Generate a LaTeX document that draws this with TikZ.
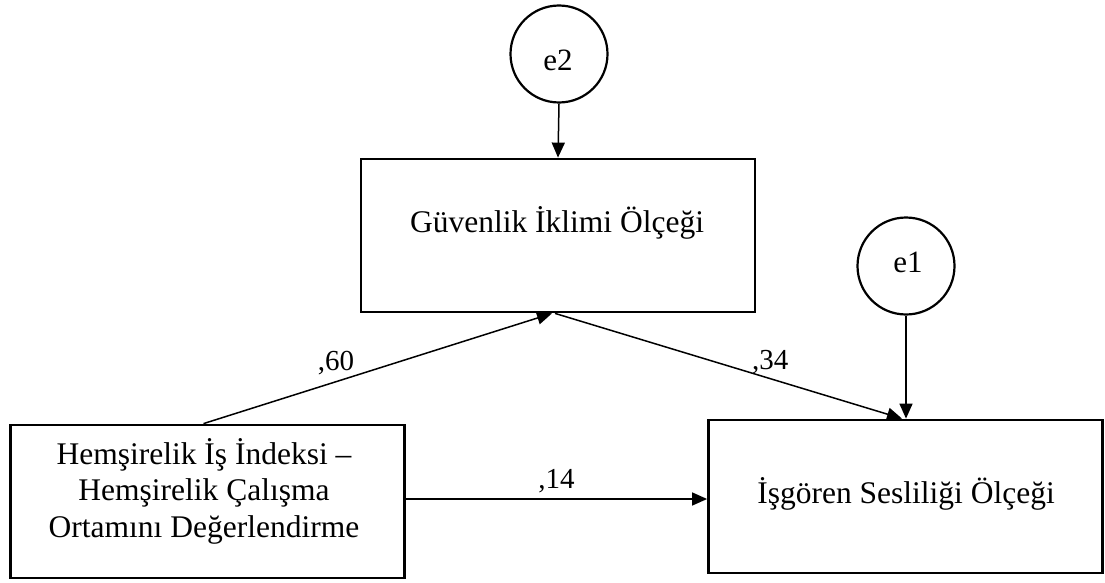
\documentclass[tikz,border=0pt]{standalone}
\usepackage{fontspec}
\setmainfont{Liberation Serif}
\usetikzlibrary{arrows.meta,calc}
\begin{document}
\begin{tikzpicture}[x=1pt,y=-1pt,
  box/.style={draw, line width=2.8pt, minimum width=394pt, minimum height=153pt, inner sep=0pt},
  err/.style={draw, circle, line width=2.2pt, minimum size=97pt, inner sep=0pt},
  txt/.style={font=\fontsize{31.5}{36.5}\selectfont, align=center, inner sep=0pt},
  lbl/.style={font=\fontsize{29}{32}\selectfont, inner sep=0pt},
  etxt/.style={font=\fontsize{31}{34}\selectfont, inner sep=0pt},
  arr/.style={line width=1.5pt, -{Triangle[length=15pt,width=13pt]}}]
\useasboundingbox (0,0) rectangle (1105,583);
% boxes
\node[box] (G) at (558,235.5) {};
\node[box] (H) at (207.5,501.5) {};
\node[box] (I) at (905.5,496.5) {};
\node[txt] (Gt) at (557,223) {Güvenlik İklimi Ölçeği};
\node[txt] (Ht) at (204,491) {Hemşirelik İş İndeksi –\\Hemşirelik Çalışma\\Ortamını Değerlendirme};
\node[txt] (It) at (906,494) {İşgören Sesliliği Ölçeği};
% error circles
\node[err] (e2) at (559,54) {};
\node[etxt] (e2t) at (558,60) {e2};
\node[err] (e1) at (906,266) {};
\node[etxt] (e1t) at (908,262) {e1};
% connectors
\draw[arr] (e2.south) -- (G.north);
\draw[arr] (e1.south) -- ([xshift=0.5pt]I.north);
\draw[arr] ([xshift=-4pt]H.north) -- ([xshift=-6pt]G.south) node[lbl, pos=0.38, above=6pt] (l60) {,60};
\draw[arr] ([xshift=-3pt]G.south) -- ([xshift=-3.5pt]I.north) node[lbl, pos=0.62, above=4pt] (l34) {,34};
\draw[arr] ([yshift=2.5pt]H.east) -- ([yshift=-2.5pt]I.west) node[lbl, midway, above=5pt] (l14) {,14};
\end{tikzpicture}
\end{document}
